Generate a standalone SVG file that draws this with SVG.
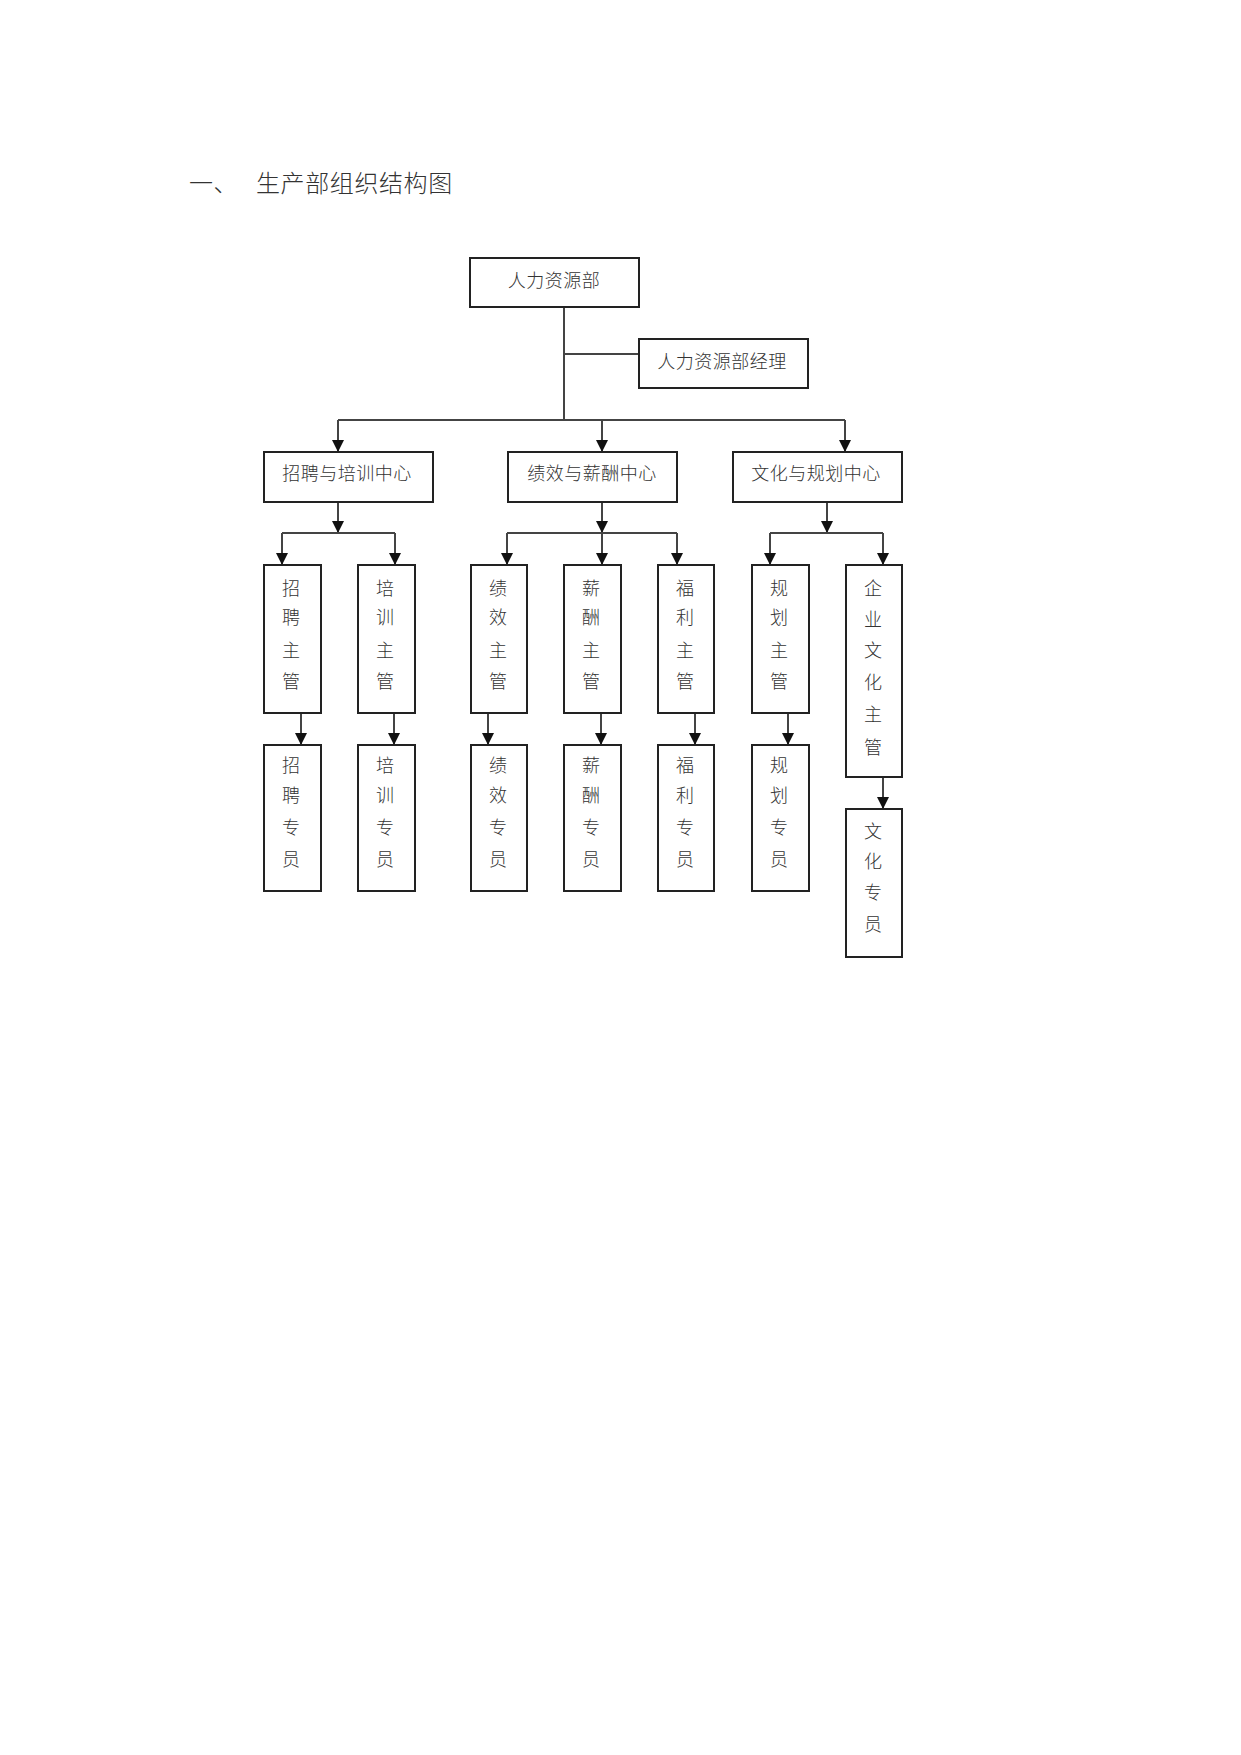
<svg xmlns="http://www.w3.org/2000/svg" width="1241" height="1755" viewBox="0 0 1241 1755">
<style>
  text { font-family: "Noto Sans CJK SC", "Noto Sans", sans-serif; fill: #333; font-weight: 300; }
  .t { font-size: 24px; letter-spacing: 0.6px; }
  .lbl { font-size: 18px; text-anchor: middle; dominant-baseline: central; letter-spacing: 0.5px; }
  .v { font-size: 18px; text-anchor: middle; dominant-baseline: central; }
  .box { fill: #fff; stroke: #222; stroke-width: 2; }
  .ln { fill: none; stroke: #444; stroke-width: 2; }
</style>
<defs>
  <marker id="ah" markerUnits="userSpaceOnUse" markerWidth="13" markerHeight="13" refX="12" refY="6" orient="auto">
    <path d="M0,0 L12,6 L0,12 z" fill="#111"/>
  </marker>
</defs>
<rect width="1241" height="1755" fill="#fff"/>

<g id="title">
  <text class="t" x="189" y="181" dominant-baseline="central">一、</text>
  <text class="t" x="256" y="181" dominant-baseline="central">生产部组织结构图</text>
</g>

<g id="connectors">
  <path class="ln" d="M564,307 V420"/>
  <path class="ln" d="M564,354 H639"/>
  <path class="ln" d="M338,420 H845"/>
  <path class="ln" d="M338,420 V452" marker-end="url(#ah)"/>
  <path class="ln" d="M602,420 V452" marker-end="url(#ah)"/>
  <path class="ln" d="M845,420 V452" marker-end="url(#ah)"/>

  <path class="ln" d="M338,502 V533" marker-end="url(#ah)"/>
  <path class="ln" d="M282,533 H395"/>
  <path class="ln" d="M282,533 V565" marker-end="url(#ah)"/>
  <path class="ln" d="M395,533 V565" marker-end="url(#ah)"/>

  <path class="ln" d="M602,502 V533" marker-end="url(#ah)"/>
  <path class="ln" d="M507,533 H677"/>
  <path class="ln" d="M507,533 V565" marker-end="url(#ah)"/>
  <path class="ln" d="M602,533 V565" marker-end="url(#ah)"/>
  <path class="ln" d="M677,533 V565" marker-end="url(#ah)"/>

  <path class="ln" d="M827,502 V533" marker-end="url(#ah)"/>
  <path class="ln" d="M770,533 H883"/>
  <path class="ln" d="M770,533 V565" marker-end="url(#ah)"/>
  <path class="ln" d="M883,533 V565" marker-end="url(#ah)"/>

  <path class="ln" d="M301,713 V745" marker-end="url(#ah)"/>
  <path class="ln" d="M394,713 V745" marker-end="url(#ah)"/>
  <path class="ln" d="M488,713 V745" marker-end="url(#ah)"/>
  <path class="ln" d="M601,713 V745" marker-end="url(#ah)"/>
  <path class="ln" d="M695,713 V745" marker-end="url(#ah)"/>
  <path class="ln" d="M788,713 V745" marker-end="url(#ah)"/>
  <path class="ln" d="M883,777 V809" marker-end="url(#ah)"/>
</g>

<g id="n-hr">
  <rect class="box" x="470" y="258" width="169" height="49"/>
  <text class="lbl" x="554" y="279">人力资源部</text>
</g>
<g id="n-hr-mgr">
  <rect class="box" x="639" y="339" width="169" height="49"/>
  <text class="lbl" x="722" y="360">人力资源部经理</text>
</g>

<g id="n-rt-center">
  <rect class="box" x="264" y="452" width="169" height="50"/>
  <text class="lbl" x="347" y="472">招聘与培训中心</text>
</g>
<g id="n-pc-center">
  <rect class="box" x="508" y="452" width="169" height="50"/>
  <text class="lbl" x="592" y="472">绩效与薪酬中心</text>
</g>
<g id="n-cp-center">
  <rect class="box" x="733" y="452" width="169" height="50"/>
  <text class="lbl" x="816" y="472">文化与规划中心</text>
</g>

<g id="n-recruit-mgr">
  <rect class="box" x="264" y="565" width="57" height="148"/>
  <text class="v"><tspan x="291" y="587">招</tspan><tspan x="291" y="616">聘</tspan><tspan x="291" y="649">主</tspan><tspan x="291" y="680">管</tspan></text>
</g>
<g id="n-train-mgr">
  <rect class="box" x="358" y="565" width="57" height="148"/>
  <text class="v"><tspan x="385" y="587">培</tspan><tspan x="385" y="616">训</tspan><tspan x="385" y="649">主</tspan><tspan x="385" y="680">管</tspan></text>
</g>
<g id="n-perf-mgr">
  <rect class="box" x="471" y="565" width="56" height="148"/>
  <text class="v"><tspan x="498" y="587">绩</tspan><tspan x="498" y="616">效</tspan><tspan x="498" y="649">主</tspan><tspan x="498" y="680">管</tspan></text>
</g>
<g id="n-pay-mgr">
  <rect class="box" x="564" y="565" width="57" height="148"/>
  <text class="v"><tspan x="591" y="587">薪</tspan><tspan x="591" y="616">酬</tspan><tspan x="591" y="649">主</tspan><tspan x="591" y="680">管</tspan></text>
</g>
<g id="n-welfare-mgr">
  <rect class="box" x="658" y="565" width="56" height="148"/>
  <text class="v"><tspan x="685" y="587">福</tspan><tspan x="685" y="616">利</tspan><tspan x="685" y="649">主</tspan><tspan x="685" y="680">管</tspan></text>
</g>
<g id="n-plan-mgr">
  <rect class="box" x="752" y="565" width="57" height="148"/>
  <text class="v"><tspan x="779" y="587">规</tspan><tspan x="779" y="616">划</tspan><tspan x="779" y="649">主</tspan><tspan x="779" y="680">管</tspan></text>
</g>
<g id="n-culture-mgr">
  <rect class="box" x="846" y="565" width="56" height="212"/>
  <text class="v"><tspan x="873" y="587">企</tspan><tspan x="873" y="618">业</tspan><tspan x="873" y="649">文</tspan><tspan x="873" y="681">化</tspan><tspan x="873" y="713">主</tspan><tspan x="873" y="746">管</tspan></text>
</g>

<g id="n-recruit-spec">
  <rect class="box" x="264" y="745" width="57" height="146"/>
  <text class="v"><tspan x="291" y="764">招</tspan><tspan x="291" y="794">聘</tspan><tspan x="291" y="826">专</tspan><tspan x="291" y="858">员</tspan></text>
</g>
<g id="n-train-spec">
  <rect class="box" x="358" y="745" width="57" height="146"/>
  <text class="v"><tspan x="385" y="764">培</tspan><tspan x="385" y="794">训</tspan><tspan x="385" y="826">专</tspan><tspan x="385" y="858">员</tspan></text>
</g>
<g id="n-perf-spec">
  <rect class="box" x="471" y="745" width="56" height="146"/>
  <text class="v"><tspan x="498" y="764">绩</tspan><tspan x="498" y="794">效</tspan><tspan x="498" y="826">专</tspan><tspan x="498" y="858">员</tspan></text>
</g>
<g id="n-pay-spec">
  <rect class="box" x="564" y="745" width="57" height="146"/>
  <text class="v"><tspan x="591" y="764">薪</tspan><tspan x="591" y="794">酬</tspan><tspan x="591" y="826">专</tspan><tspan x="591" y="858">员</tspan></text>
</g>
<g id="n-welfare-spec">
  <rect class="box" x="658" y="745" width="56" height="146"/>
  <text class="v"><tspan x="685" y="764">福</tspan><tspan x="685" y="794">利</tspan><tspan x="685" y="826">专</tspan><tspan x="685" y="858">员</tspan></text>
</g>
<g id="n-plan-spec">
  <rect class="box" x="752" y="745" width="57" height="146"/>
  <text class="v"><tspan x="779" y="764">规</tspan><tspan x="779" y="794">划</tspan><tspan x="779" y="826">专</tspan><tspan x="779" y="858">员</tspan></text>
</g>
<g id="n-culture-spec">
  <rect class="box" x="846" y="809" width="56" height="148"/>
  <text class="v"><tspan x="873" y="830">文</tspan><tspan x="873" y="860">化</tspan><tspan x="873" y="891">专</tspan><tspan x="873" y="923">员</tspan></text>
</g>
</svg>
